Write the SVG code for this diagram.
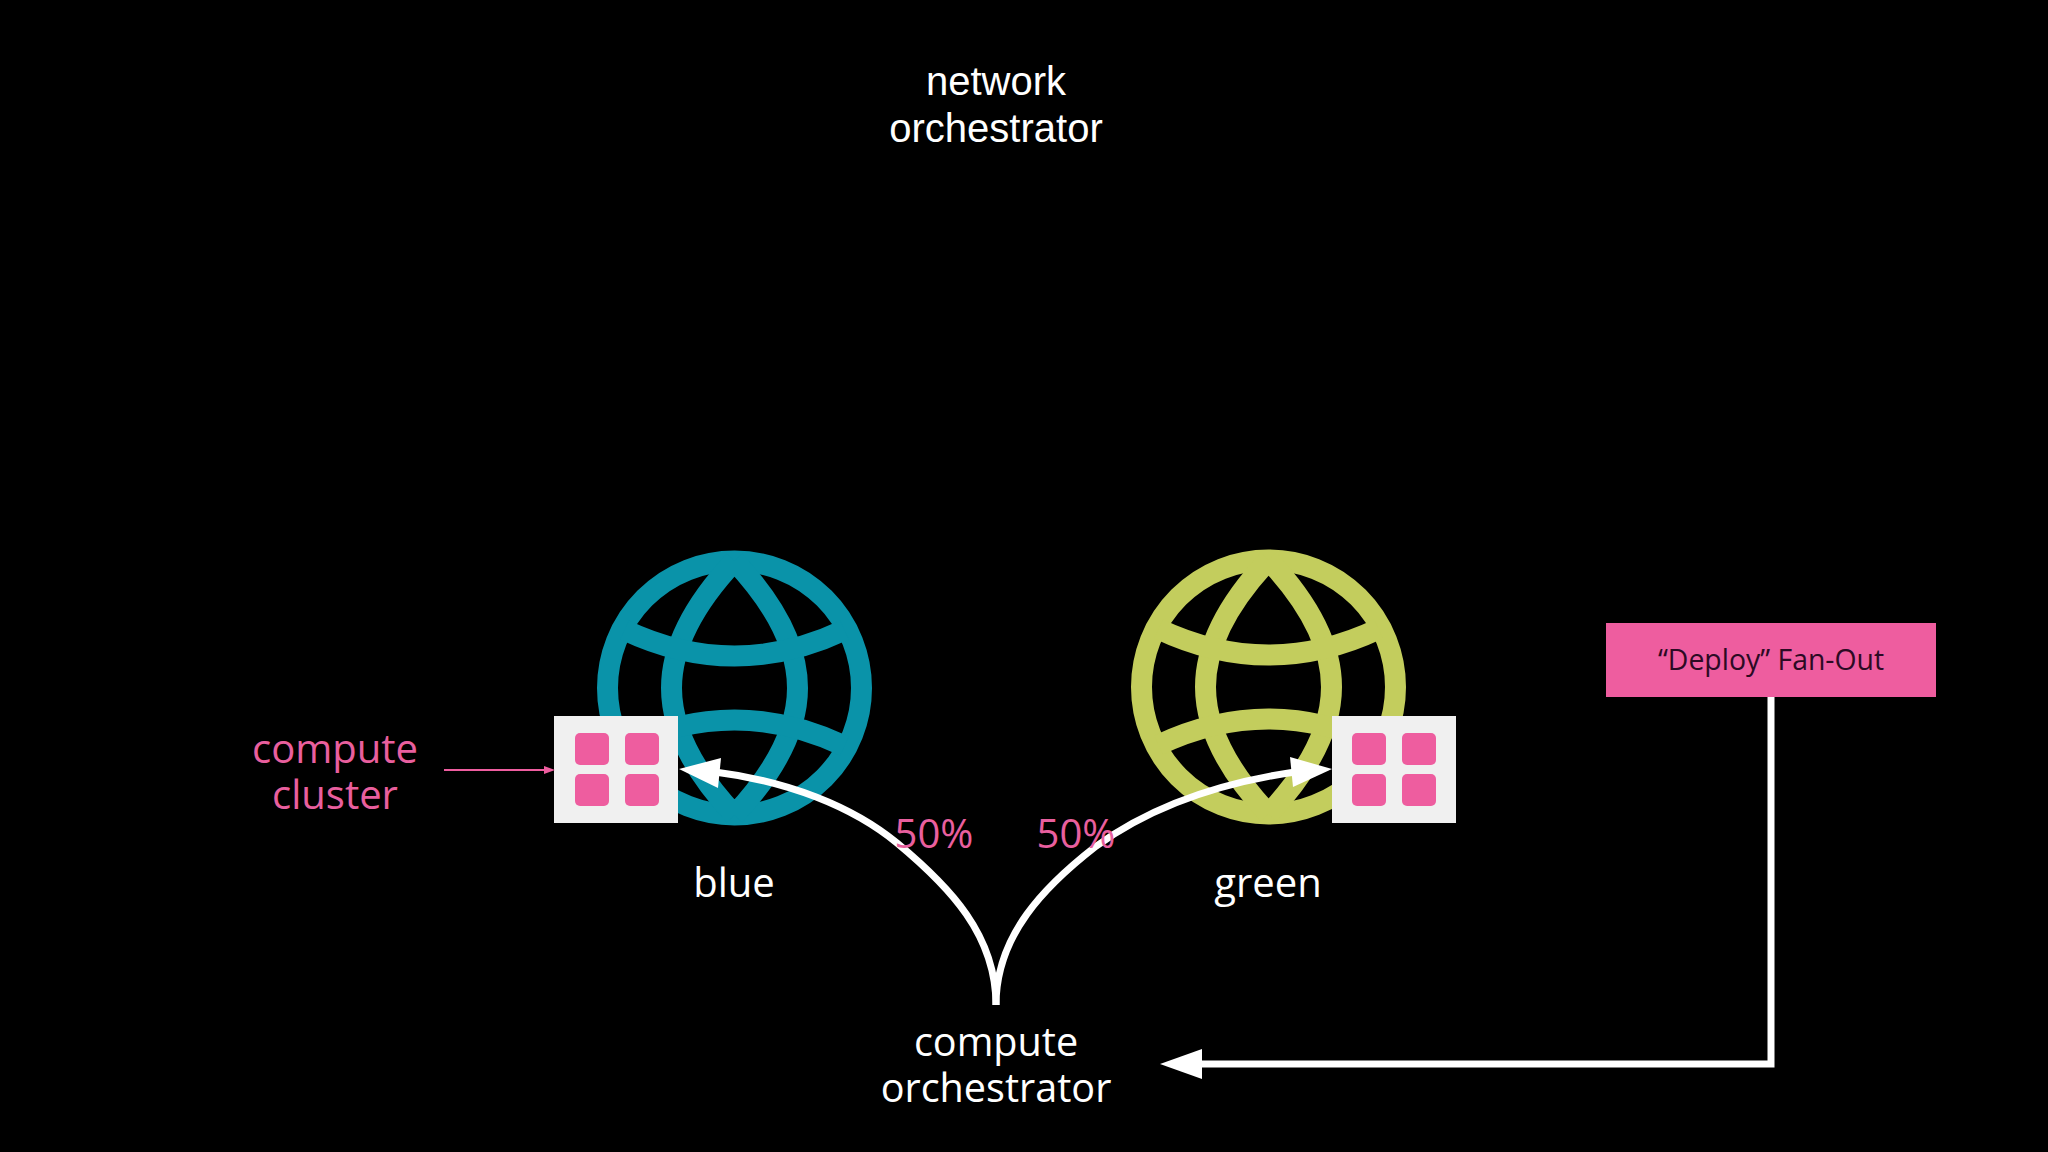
<svg xmlns="http://www.w3.org/2000/svg" width="2048" height="1152" viewBox="0 0 2048 1152">
<style>
.sans{font-family:"Liberation Sans",Arial,sans-serif;font-size:40px;fill:#fff;text-anchor:middle}
.open{font-family:"Open Sans","Noto Sans",sans-serif;font-size:40px;fill:#fff;text-anchor:middle}
.pk{fill:#ee5d9f}
.lbl{font-family:"Open Sans","Noto Sans",sans-serif;font-size:40px;fill:#e95f9e;text-anchor:middle}
.wire{fill:none;stroke:#fff;stroke-width:7}
.box{fill:#f0f0f0}
.glb{fill:none;stroke-width:21}
</style>
<defs>
<g id="globe">
<circle r="127"/>
<path d="M0 -127C-30 -95 -63 -50 -63 0S-30 95 0 127M0 -127C30 -95 63 -50 63 0S30 95 0 127"/>
<path d="M-110 -58Q0 -6 110 -58M-110 58Q0 6 110 58"/>
</g>
<g id="cells" class="pk">
<rect x="21" y="17" width="34" height="32" rx="5"/>
<rect x="71" y="17" width="34" height="32" rx="5"/>
<rect x="21" y="58" width="34" height="32" rx="5"/>
<rect x="71" y="58" width="34" height="32" rx="5"/>
</g>
</defs>
<rect width="2048" height="1152" fill="#000"/>
<g id="network-orchestrator">
<text class="sans" x="996" y="95">network</text>
<text class="sans" x="996" y="142">orchestrator</text>
</g>
<g id="blue">
<use href="#globe" x="734.5" y="688" class="glb" stroke="#0a93a9"/>
<rect class="box" x="554" y="716" width="124" height="107"/>
<use href="#cells" x="554" y="716"/>
<text class="open" x="734" y="897">blue</text>
</g>
<g id="green">
<use href="#globe" x="1268.5" y="687" class="glb" stroke="#c3cd5d"/>
<rect class="box" x="1332" y="716" width="124" height="107"/>
<use href="#cells" x="1331" y="716"/>
<text class="open" x="1268" y="897">green</text>
</g>
<g id="connectors">
<path class="wire" d="M996 1005C996 935 950 887 897 843C852 806 787 781 715 772"/>
<path fill="#fff" d="M679 769L721 758L718 788Z"/>
<path class="wire" d="M996 1005C996 935 1045 886 1095 847C1143 812 1205 785 1295 772"/>
<path fill="#fff" d="M1332 769L1290 757L1293 787Z"/>
<path class="wire" d="M1771 697V1064H1200"/>
<path fill="#fff" d="M1160 1064L1202 1049V1079Z"/>
<path fill="none" stroke="#ee5d9f" stroke-width="2" d="M444 770H546"/>
<path class="pk" d="M555 770L544 766V774Z"/>
</g>
<g id="compute-cluster-label">
<text class="lbl" x="335" y="763">compute</text>
<text class="lbl" x="335" y="809">cluster</text>
</g>
<g id="split-labels">
<text class="lbl" x="934" y="848">50%</text>
<text class="lbl" x="1076" y="848">50%</text>
</g>
<g id="compute-orchestrator">
<text class="open" x="996" y="1056" style="font-size:39.6px">compute</text>
<text class="open" x="996" y="1102" style="font-size:39.6px">orchestrator</text>
</g>
<g id="deploy-fan-out">
<rect class="pk" x="1606" y="623" width="330" height="74"/>
<text x="1771" y="670" font-family="'Open Sans','Noto Sans',sans-serif" font-size="28.4" fill="#2c0a24" text-anchor="middle">“Deploy” Fan-Out</text>
</g>
</svg>
